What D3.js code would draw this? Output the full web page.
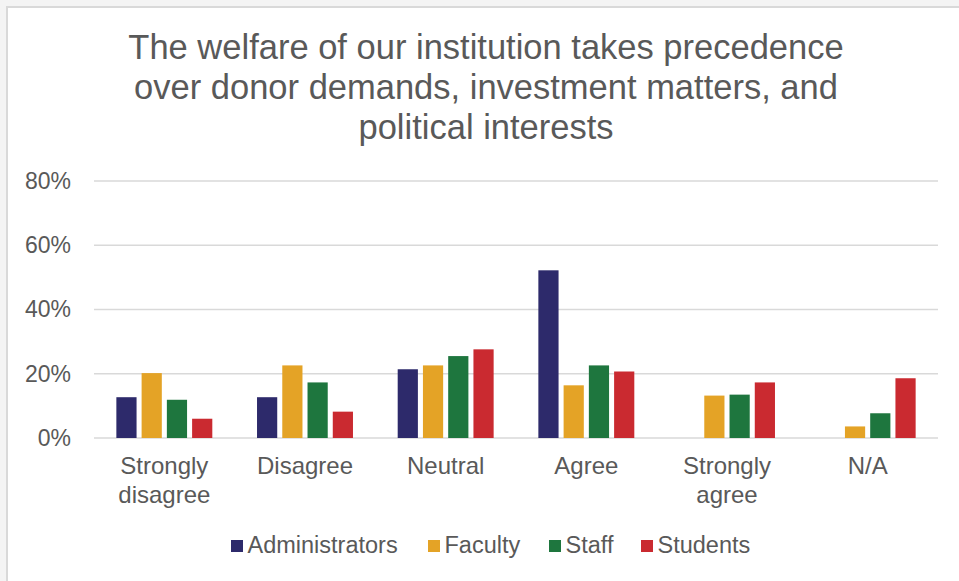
<!DOCTYPE html>
<html>
<head>
<meta charset="utf-8">
<script src="https://cdn.jsdelivr.net/npm/d3@7"></script>
<style>
  body { margin: 0; background: #f4f4f4; }
  svg { display: block; font-family: "Liberation Sans", Arial, sans-serif; }
</style>
</head>
<body>
<script>
// data
var categories = ["Strongly disagree", "Disagree", "Neutral", "Agree", "Strongly agree", "N/A"];
var series = ["Administrators", "Faculty", "Staff", "Students"];
var administrators = [12.7, 12.7, 21.4, 52.2, 0, 0];
var faculty = [20.2, 22.6, 22.6, 16.4, 13.2, 3.6];
var staff = [11.9, 17.3, 25.5, 22.6, 13.5, 7.7];
var students = [6.0, 8.2, 27.6, 20.7, 17.3, 18.6];
var yTicks = [0, 20, 40, 60, 80];
var titleLines = ["The welfare of our institution takes precedence",
  "over donor demands, investment matters, and",
  "political interests"];

var values = [administrators, faculty, staff, students];
var colors = ["#2d2a6b", "#e4a326", "#1e763e", "#ca2a30"];
var textColor = "#595959";

var W = 959, H = 581;
var margin = { top: 181, right: 21, bottom: 143, left: 94 },
  width = W - margin.left - margin.right,
  height = H - margin.top - margin.bottom;

var svg = d3.select("body").append("svg")
  .attr("width", W)
  .attr("height", H);

// chart frame
svg.append("rect")
  .attr("x", 7).attr("y", 7)
  .attr("width", W).attr("height", H)
  .attr("fill", "#ffffff")
  .attr("stroke", "#d9d9d9")
  .attr("stroke-width", 2);

// title
svg.append("g").selectAll("text")
  .data(titleLines)
  .enter().append("text")
  .attr("x", 486)
  .attr("y", function (d, i) { return 59 + i * 40; })
  .attr("text-anchor", "middle")
  .attr("fill", textColor)
  .style("font-size", "34.5px")
  .text(function (d) { return d; });

var g = svg.append("g")
  .attr("transform", "translate(" + margin.left + "," + margin.top + ")");

var x = d3.scaleBand().domain(categories).range([0, width]);
var xInner = d3.scaleBand().domain(series)
  .range([0, 101]).paddingInner(0.2).paddingOuter(0.1);
var innerOffset = (x.bandwidth() - 101) / 2;
var y = d3.scaleLinear().domain([0, 80]).range([height, 0]);

// gridlines
g.append("g").selectAll("line")
  .data(yTicks)
  .enter().append("line")
  .attr("x1", 0).attr("x2", width)
  .attr("y1", function (d) { return y(d); })
  .attr("y2", function (d) { return y(d); })
  .attr("stroke", "#d9d9d9")
  .attr("stroke-width", 1.5);

// y axis labels
var yAxis = g.append("g")
  .call(d3.axisLeft(y).tickValues(yTicks).tickSize(0).tickPadding(23)
    .tickFormat(function (d) { return d + "%"; }));
yAxis.select(".domain").remove();
yAxis.selectAll("text")
  .attr("fill", textColor)
  .style("font-size", "23px")
  .style("font-family", "Liberation Sans, Arial, sans-serif");

// bars
var groups = g.append("g").selectAll("g")
  .data(categories)
  .enter().append("g")
  .attr("transform", function (d) { return "translate(" + (x(d) + innerOffset) + ",0)"; });

groups.selectAll("rect")
  .data(function (d, ci) {
    return series.map(function (s, si) { return { s: s, si: si, v: values[si][ci] }; });
  })
  .enter().append("rect")
  .filter(function (d) { return d.v > 0; })
  .attr("x", function (d) { return xInner(d.s); })
  .attr("width", xInner.bandwidth())
  .attr("y", function (d) { return y(d.v); })
  .attr("height", function (d) { return y(0) - y(d.v); })
  .attr("fill", function (d) { return colors[d.si]; });

// x axis labels (wrapped)
var xAxis = g.append("g")
  .attr("transform", "translate(0," + height + ")")
  .call(d3.axisBottom(x).tickSize(0).tickPadding(0));
xAxis.select(".domain").remove();
xAxis.selectAll("text").remove();
xAxis.selectAll(".tick").each(function (d) {
  var words = d.split(" ");
  var t = d3.select(this).append("text")
    .attr("text-anchor", "middle")
    .attr("fill", textColor)
    .style("font-size", "24px");
  words.forEach(function (w, i) {
    t.append("tspan").attr("x", 0).attr("y", 36 + i * 28.5).text(w);
  });
});

// legend
var legendX = [231, 428, 549, 641];
var legend = svg.append("g").selectAll("g")
  .data(series)
  .enter().append("g")
  .attr("transform", function (d, i) { return "translate(" + legendX[i] + ",546)"; });
legend.append("rect")
  .attr("x", 0).attr("y", -6)
  .attr("width", 12).attr("height", 12)
  .attr("fill", function (d, i) { return colors[i]; });
legend.append("text")
  .attr("x", 16.5).attr("y", 7)
  .attr("fill", textColor)
  .style("font-size", "23.5px")
  .text(function (d) { return d; });
</script>
</body>
</html>
